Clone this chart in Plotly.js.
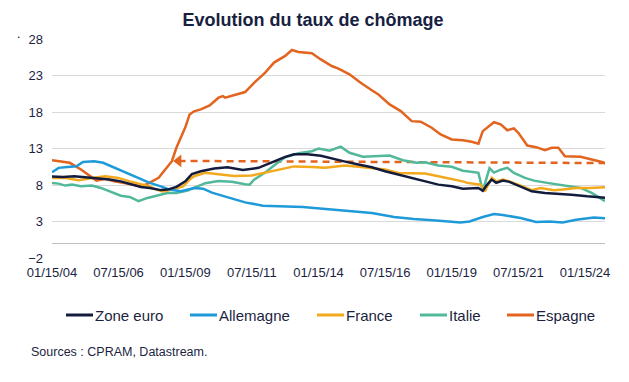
<!DOCTYPE html>
<html>
<head>
<meta charset="utf-8">
<script src="https://cdn.plot.ly/plotly-3.0.1.min.js"></script>
<style>html,body{margin:0;padding:0;background:#fff;}#chart{width:629px;height:382px;}</style>
</head>
<body>
<div id="chart"></div>
<script>
// ---- Data ----
const seriesNames = ['Zone euro', 'Allemagne', 'France', 'Italie', 'Espagne'];

const zoneEuroDates = ['2004-01','2004-06','2004-11','2005-03','2005-06','2005-11','2006-03','2006-08','2006-12','2007-05','2007-09','2008-02','2008-05','2008-09','2009-01','2009-04','2009-08','2010-02','2010-08','2011-03','2011-10','2012-04','2012-10','2013-02','2013-08','2014-02','2014-07','2015-01','2015-07','2016-01','2016-07','2017-01','2017-07','2018-01','2018-07','2019-01','2019-06','2020-01','2020-03','2020-05','2020-07','2020-09','2020-12','2021-03','2021-08','2022-01','2022-07','2023-01','2023-07','2024-02','2024-10'];
const zoneEuroValues = [9.15,9.1,9.2,9.1,8.97,8.84,8.74,8.5,8.15,7.74,7.6,7.3,7.37,7.75,8.5,9.5,9.88,10.25,10.43,10.05,10.35,11.12,11.86,12.2,12.2,12.0,11.6,11.2,10.8,10.43,9.88,9.43,8.98,8.5,8.05,7.82,7.5,7.6,7.2,8.05,8.74,8.29,8.6,8.43,7.82,7.13,6.91,6.82,6.68,6.45,6.25];

const allemagneDates = ['2004-01','2004-04','2004-08','2004-12','2005-03','2005-08','2005-12','2006-04','2006-09','2007-01','2007-06','2007-09','2008-02','2008-06','2008-11','2009-05','2009-09','2010-01','2010-09','2011-04','2011-12','2012-09','2013-06','2014-03','2014-12','2016-01','2016-11','2017-08','2018-06','2019-05','2019-09','2020-03','2020-08','2020-12','2021-08','2022-03','2022-09','2023-03','2023-09','2024-05','2024-10'];
const allemagneValues = [9.75,10.35,10.45,10.57,11.15,11.26,11.04,10.5,9.88,9.33,8.65,8.29,7.82,7.37,7.15,7.6,7.5,6.95,6.23,5.62,5.17,5.07,4.99,4.76,4.48,4.17,3.62,3.34,3.15,2.88,3.0,3.62,4.03,3.89,3.48,2.93,3.01,2.88,3.25,3.56,3.43];

const franceDates = ['2004-01','2004-07','2005-01','2005-07','2006-01','2006-07','2006-12','2007-04','2007-09','2007-12','2008-03','2008-07','2008-12','2009-03','2009-05','2009-10','2010-04','2010-11','2011-07','2012-01','2012-07','2013-02','2013-10','2014-04','2014-11','2015-01','2015-07','2016-01','2016-07','2017-01','2017-07','2018-01','2018-07','2019-01','2019-06','2019-08','2020-02','2020-04','2020-05','2020-07','2020-09','2020-12','2021-03','2021-08','2022-01','2022-05','2022-11','2023-03','2023-09','2024-03','2024-10'];
const franceValues = [8.97,8.95,8.64,8.97,9.2,8.97,8.5,8.19,7.82,7.37,7.13,7.37,7.8,8.74,9.2,9.66,9.43,9.25,9.3,9.7,10.1,10.55,10.45,10.35,10.6,10.66,10.49,10.35,10.12,9.66,9.57,9.57,9.2,8.84,8.5,8.29,8.05,7.13,7.82,8.97,8.5,8.74,8.5,7.92,7.3,7.6,7.27,7.37,7.6,7.6,7.68];

const italieDates = ['2004-01','2004-04','2004-07','2004-10','2005-02','2005-07','2005-11','2006-03','2006-08','2006-12','2007-04','2007-08','2007-12','2008-05','2008-09','2009-02','2009-05','2009-10','2010-04','2010-10','2011-04','2011-06','2011-08','2012-01','2012-06','2012-10','2013-04','2013-10','2014-01','2014-04','2014-06','2014-11','2015-03','2015-09','2016-03','2016-09','2017-03','2017-09','2018-01','2018-07','2019-01','2019-06','2019-08','2020-01','2020-03','2020-06','2020-08','2020-11','2021-02','2021-05','2021-10','2022-02','2022-08','2023-02','2023-07','2023-11','2024-04','2024-10'];
const italieValues = [8.29,8.19,7.92,8.05,7.82,7.92,7.6,7.13,6.54,6.36,5.8,6.23,6.54,6.91,6.91,7.23,7.6,8.25,8.55,8.45,8.1,8.05,8.74,9.7,10.9,11.8,12.35,12.63,13.0,12.77,12.7,13.25,12.41,11.86,11.94,12.04,11.39,11.04,11.12,10.66,10.5,9.95,9.88,9.66,7.2,10.3,9.7,10.1,10.35,9.66,8.97,8.6,8.29,8.05,7.82,7.6,6.91,5.8];

const espagneDates = ['2004-01','2004-05','2004-09','2005-02','2005-06','2005-09','2006-01','2006-05','2006-09','2007-02','2007-05','2007-08','2008-01','2008-04','2008-07','2008-09','2009-01','2009-03','2009-05','2009-08','2009-12','2010-04','2010-06','2010-07','2010-12','2011-04','2011-08','2012-01','2012-05','2012-10','2013-01','2013-04','2013-10','2014-02','2014-07','2014-10','2015-03','2015-08','2016-01','2016-04','2016-09','2017-02','2017-07','2017-11','2018-04','2018-08','2019-01','2019-06','2019-10','2020-01','2020-03','2020-08','2020-11','2021-02','2021-05','2021-07','2021-11','2022-03','2022-07','2022-10','2023-01','2023-04','2023-11','2024-03','2024-09','2024-10'];
const espagneValues = [11.39,11.26,11.04,10.12,9.2,8.6,8.84,8.5,8.29,8.05,7.82,8.15,8.98,10.12,11.26,13.1,15.9,17.67,18.1,18.36,18.9,19.96,20.18,19.96,20.4,20.73,22.0,23.4,24.77,25.68,26.5,26.23,26.05,25.2,24.3,23.95,23.16,22.0,20.97,20.4,19.04,18.12,16.75,16.67,15.84,14.92,14.24,14.14,13.92,13.65,15.38,16.6,16.3,15.5,15.75,15.16,13.4,13.18,12.77,13.1,13.1,11.94,11.86,11.59,11.12,10.94];

// dashed reference arrow (Espagne level)
const arrowDates = ['2008-10', '2024-12'];
const arrowValues = [11.3, 11.0];

const tickDates = ['2004-01-15','2006-07-15','2009-01-15','2011-07-15','2014-01-15','2016-07-15','2019-01-15','2021-07-15','2024-01-15'];
const tickLabels = ['01/15/04','07/15/06','01/15/09','07/15/11','01/15/14','07/15/16','01/15/19','07/15/21','01/15/24'];

const titleText = 'Evolution du taux de chômage';
const sourceText = 'Sources : CPRAM, Datastream.';

// ---- Styles ----
const colors = ['#141c3e', '#1f9ad8', '#f2a91c', '#52b89a', '#e2641f'];
const textColor = '#1c1f3f';
const FONT = 'Arial, "Liberation Sans", sans-serif';

const toDay = d => d + '-15';
const allDates = [zoneEuroDates, allemagneDates, franceDates, italieDates, espagneDates];
const allValues = [zoneEuroValues, allemagneValues, franceValues, italieValues, espagneValues];
const order = [4, 3, 2, 1, 0];

const traces = [];
traces.push({
  type: 'scatter', mode: 'lines+markers',
  x: arrowDates.map(toDay), y: arrowValues,
  line: {color: colors[4], width: 2.5, dash: '7px,5px'},
  marker: {symbol: ['triangle-left', 'triangle-right'], size: 11, color: colors[4]},
  cliponaxis: false, showlegend: false, hoverinfo: 'skip'
});
order.forEach(i => {
  traces.push({
    type: 'scatter', mode: 'lines', name: seriesNames[i],
    x: allDates[i].map(toDay), y: allValues[i],
    line: {color: colors[i], width: 2.5},
    showlegend: false
  });
});

// plot-area geometry (px) for paper-coordinate conversion
const L = 52, R = 605, T = 39, B = 258;
const px = x => (x - L) / (R - L);
const py = y => (B - y) / (B - T);

const shapes = [];
const annotations = [];
const legendX = [66, 190, 317, 420, 507];
const legendY = 315;
seriesNames.forEach((n, i) => {
  shapes.push({type: 'line', xref: 'paper', yref: 'paper',
    x0: px(legendX[i]), x1: px(legendX[i] + 27), y0: py(legendY), y1: py(legendY),
    line: {color: colors[i], width: 3}});
  annotations.push({xref: 'paper', yref: 'paper', x: px(legendX[i] + 27), y: py(legendY),
    xanchor: 'left', yanchor: 'middle', showarrow: false, text: n,
    font: {family: FONT, size: 15, color: textColor}});
});
annotations.push({xref: 'paper', yref: 'paper', x: px(29), y: py(352), xanchor: 'left', yanchor: 'middle',
  showarrow: false, text: sourceText, font: {family: FONT, size: 12.5, color: textColor}});
annotations.push({xref: 'paper', yref: 'paper', x: px(18), y: py(34), xanchor: 'center', yanchor: 'middle',
  showarrow: false, text: '.', font: {family: FONT, size: 12, color: '#000'}});

const layout = {
  width: 629, height: 382,
  margin: {l: L, r: 629 - R, t: T, b: 382 - B, pad: 0},
  paper_bgcolor: '#ffffff', plot_bgcolor: '#ffffff',
  font: {family: FONT, color: textColor},
  title: {text: '<b>' + titleText + '</b>', x: 313 / 629, xref: 'container', xanchor: 'center',
    y: 1 - 20 / 382, yref: 'container', yanchor: 'middle',
    font: {family: FONT, size: 18, color: '#17213f'}},
  showlegend: false,
  xaxis: {type: 'date', range: ['2004-01-15', '2024-10-15'],
    tickvals: tickDates, ticktext: tickLabels, showgrid: false, zeroline: false, showline: false,
    ticks: '', ticklabelstandoff: 5, tickfont: {family: FONT, size: 13, color: textColor}, fixedrange: true},
  yaxis: {range: [-2, 28], tick0: -2, dtick: 5, showgrid: true, gridcolor: '#d9d9d9', gridwidth: 1,
    zeroline: true, zerolinecolor: '#bfbfbf', zerolinewidth: 1, showline: false, ticks: '',
    ticklabelstandoff: 8, tickfont: {family: FONT, size: 13, color: textColor}, fixedrange: true},
  shapes: shapes,
  annotations: annotations
};

Plotly.newPlot('chart', traces, layout, {staticPlot: true, displayModeBar: false});
</script>
</body>
</html>
